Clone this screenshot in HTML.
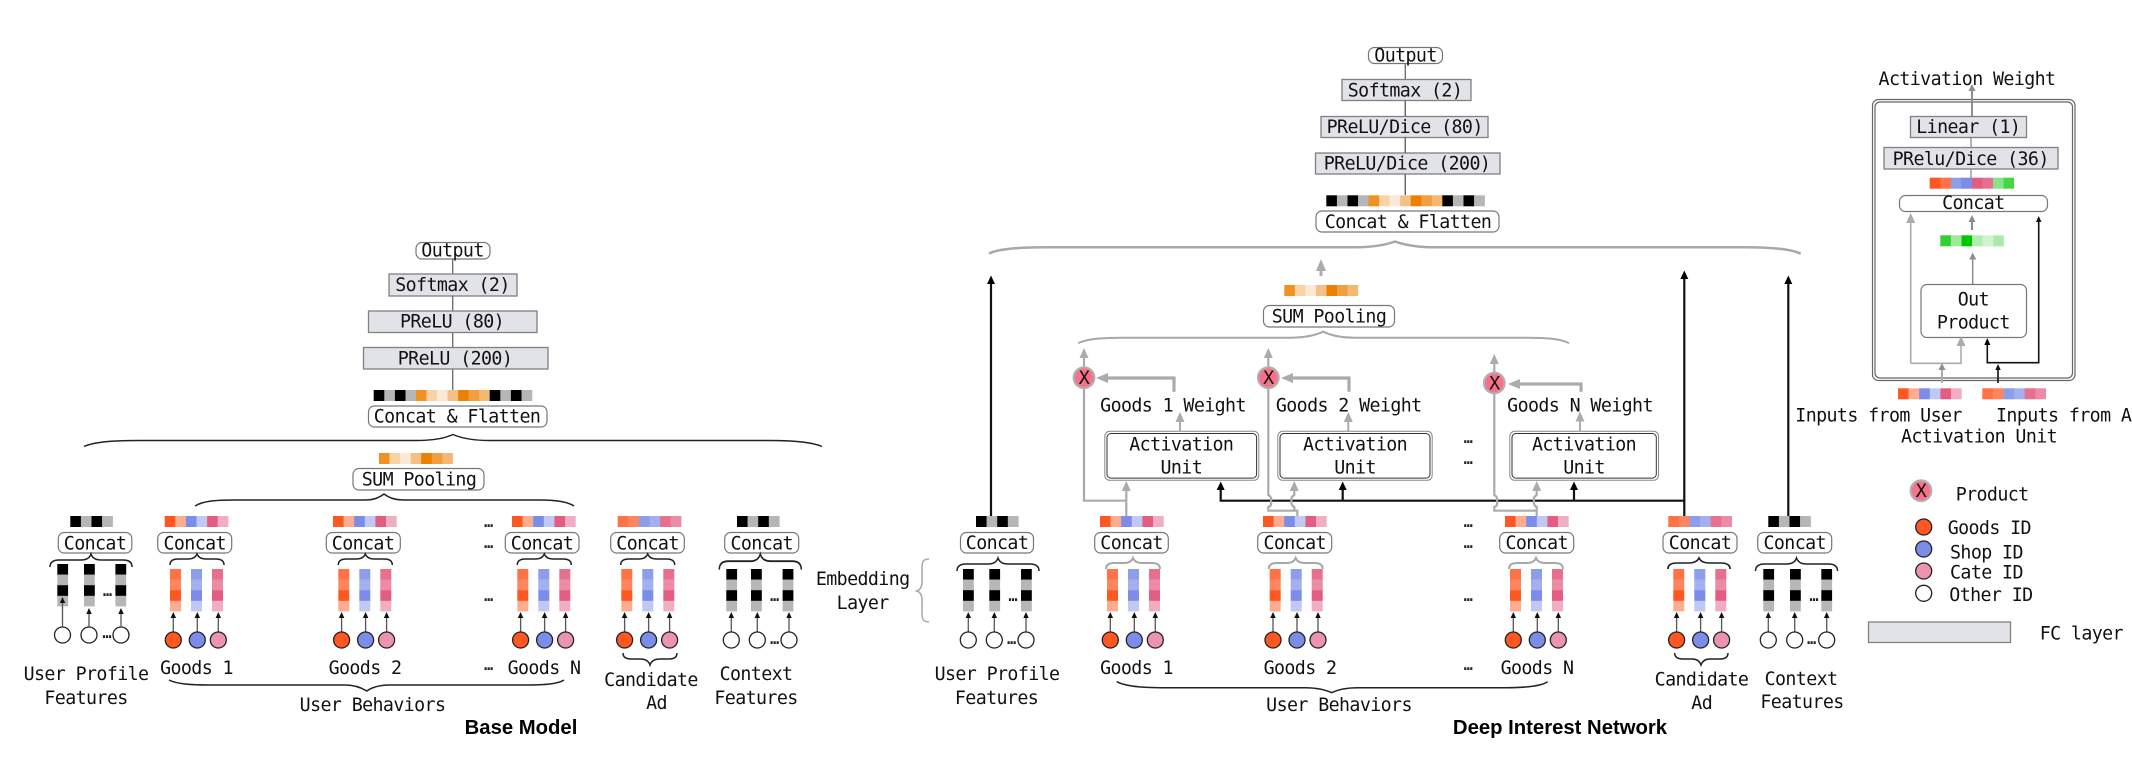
<!DOCTYPE html>
<html><head><meta charset="utf-8"><style>
html,body{margin:0;padding:0;background:#fff;width:2132px;height:762px;overflow:hidden}
svg{display:block}
text{font-family:"DejaVu Sans Mono","Liberation Mono",monospace;font-size:18.3px;letter-spacing:-0.6px;fill:#111}
.m{text-anchor:middle}
.b{font-family:"Liberation Sans",sans-serif;font-weight:bold;font-size:20.3px;letter-spacing:0;fill:#000;text-anchor:middle}
.d{font-size:15px;letter-spacing:0;font-weight:bold;text-anchor:middle;fill:#222}
.box{fill:#fff;stroke:#777;stroke-width:1.2}
.fc{fill:#e2e3e8;stroke:#808080;stroke-width:1.3}
.br{fill:none;stroke:#222;stroke-width:1.5}
.gb{fill:none;stroke:#a8a8a8;stroke-width:2}
.gl{fill:none;stroke:#ababab;stroke-width:2.2}
.kl{fill:none;stroke:#111;stroke-width:2.2}
</style></head><body>
<svg width="2132" height="762" viewBox="0 0 2132 762" xmlns="http://www.w3.org/2000/svg">
<defs>
<marker id="as" markerUnits="userSpaceOnUse" markerWidth="7" markerHeight="7" refX="0" refY="2.75" orient="auto"><path d="M0,0L6,2.75L0,5.5z" fill="#111"/></marker>
<marker id="ak" markerUnits="userSpaceOnUse" markerWidth="10" markerHeight="10" refX="0" refY="4" orient="auto"><path d="M0,0L8.5,4L0,8z" fill="#000"/></marker>
<marker id="ag" markerUnits="userSpaceOnUse" markerWidth="12" markerHeight="10" refX="0" refY="4.5" orient="auto"><path d="M0,0L10,4.5L0,9z" fill="#ababab"/></marker>
<marker id="agb" markerUnits="userSpaceOnUse" markerWidth="14" markerHeight="12" refX="0" refY="5" orient="auto"><path d="M0,0L12,5L0,10z" fill="#ababab"/></marker>
<marker id="agd" markerUnits="userSpaceOnUse" markerWidth="9" markerHeight="8" refX="0" refY="3.5" orient="auto"><path d="M0,0L7,3.5L0,7z" fill="#8e8e8e"/></marker>

<g id="bk4"><rect width="10.8" height="11" fill="#000"/><rect x="10.6" width="10.8" height="11" fill="#b6b6b6"/><rect x="21.2" width="10.8" height="11" fill="#000"/><rect x="31.8" width="10.8" height="11" fill="#b6b6b6"/></g>
<g id="bu"><rect width="10.9" height="11" fill="#fe5722"/><rect x="10.6" width="10.9" height="11" fill="#fdac8f"/><rect x="21.2" width="10.9" height="11" fill="#7b8de8"/><rect x="31.8" width="10.9" height="11" fill="#c0c9f4"/><rect x="42.4" width="10.9" height="11" fill="#e35d82"/><rect x="53" width="10.7" height="11" fill="#f1aec3"/></g>
<g id="bc"><rect width="10.9" height="11" fill="#fe7245"/><rect x="10.6" width="10.9" height="11" fill="#fe855e"/><rect x="21.2" width="10.9" height="11" fill="#8c9dea"/><rect x="31.8" width="10.9" height="11" fill="#a3b0ed"/><rect x="42.4" width="10.9" height="11" fill="#e8708f"/><rect x="53" width="10.7" height="11" fill="#ec8ba5"/></g>
<g id="bo"><rect width="10.8" height="11" fill="#ef9222"/><rect x="10.55" width="10.8" height="11" fill="#f9d2a5"/><rect x="21.1" width="10.8" height="11" fill="#fce9d5"/><rect x="31.65" width="10.8" height="11" fill="#f5c088"/><rect x="42.2" width="10.8" height="11" fill="#ec8000"/><rect x="52.75" width="10.8" height="11" fill="#f09e3f"/><rect x="63.3" width="10.6" height="11" fill="#f4b870"/></g>
<g id="b15"><use href="#bk4"/><use href="#bo" x="42.2"/><use href="#bk4" x="116"/></g>
<g id="vk"><rect width="10.8" height="10.8" fill="#000"/><rect y="10.6" width="10.8" height="10.8" fill="#b6b6b6"/><rect y="21.2" width="10.8" height="10.8" fill="#000"/><rect y="31.8" width="10.8" height="10.6" fill="#b6b6b6"/></g>
<g id="vc">
<rect width="11" height="10.8" fill="#fe7245"/><rect y="10.6" width="11" height="10.8" fill="#fe855e"/><rect y="21.2" width="11" height="10.8" fill="#fe5722"/><rect y="31.8" width="11" height="10.6" fill="#fdac8f"/>
<rect x="21" width="11" height="10.8" fill="#8c9dea"/><rect x="21" y="10.6" width="11" height="10.8" fill="#a3b0ed"/><rect x="21" y="21.2" width="11" height="10.8" fill="#7b8de8"/><rect x="21" y="31.8" width="11" height="10.6" fill="#c0c9f4"/>
<rect x="42" width="11" height="10.8" fill="#e8708f"/><rect x="42" y="10.6" width="11" height="10.8" fill="#ec8ba5"/><rect x="42" y="21.2" width="11" height="10.8" fill="#e35d82"/><rect x="42" y="31.8" width="11" height="10.6" fill="#f1aec3"/>
</g>
<g id="grp"><use href="#vc" y="569"/>
<path d="M3.3,632V618" stroke="#555" stroke-width="1.3" fill="none" marker-end="url(#as)"/><path d="M27.3,632V618" stroke="#555" stroke-width="1.3" fill="none" marker-end="url(#as)"/><path d="M48.3,632V618" stroke="#555" stroke-width="1.3" fill="none" marker-end="url(#as)"/>
<circle cx="3.3" cy="640" r="8" fill="#fe5722" stroke="#222" stroke-width="1.3"/><circle cx="27.3" cy="640" r="8" fill="#7b8de8" stroke="#222" stroke-width="1.3"/><circle cx="48.3" cy="640" r="8" fill="#ec94ae" stroke="#222" stroke-width="1.3"/></g>
<path id="b3" d="M-27,11Q-27,5 -19,5L-9,5Q-2,5 0,0Q2,5 9,5L19,5Q27,5 27,11"/>
<path id="b4" d="M-41,13Q-41,6 -32,6L-10,6Q-2,6 0,0Q2,6 10,6L32,6Q41,6 41,13"/>
<g id="wc"><path d="M0,-8V-22" stroke="#555" stroke-width="1.3" fill="none" marker-end="url(#as)"/><circle r="8" fill="#fff" stroke="#222" stroke-width="1.3"/></g>
</defs>

<!-- BASE MODEL -->
<path d="M452.7,259V390" stroke="#666" stroke-width="1.3"/>
<rect class="box" x="416" y="242.5" width="74" height="16.5" rx="6"/><text class="m" x="452.5" y="256.5">Output</text>
<rect class="fc" x="389" y="274" width="128" height="22"/><text class="m" x="452.5" y="291">Softmax (2)</text>
<rect class="fc" x="368.5" y="311" width="168.5" height="21.5"/><text class="m" x="452" y="327.7">PReLU (80)</text>
<rect class="fc" x="363.5" y="347.5" width="184.5" height="21.5"/><text class="m" x="455" y="364.3">PReLU (200)</text>
<use href="#b15" x="373.7" y="390"/>
<rect class="box" x="368.5" y="406" width="178.5" height="21" rx="6"/><text class="m" x="457" y="422.3">Concat &amp; Flatten</text>
<path class="br" d="M84,446.5C95,441.5 115,440.5 140,440.5L415,440.5C435,440.5 445,438 453,434.5C461,438 471,440.5 490,440.5L770,440.5C795,440.5 812,442 822,446.5"/>
<use href="#bo" x="379" y="453"/>
<rect class="box" x="353" y="468.5" width="131" height="21.5" rx="6"/><text class="m" x="419" y="485.7">SUM Pooling</text>
<path class="br" d="M195,506C203,501 215,500 235,500L365,500C375,500 380,497 384,494C388,497 393,500 405,500L540,500C558,500 568,502 574,506"/>

<use href="#bk4" x="70.3" y="516"/>
<rect class="box" x="58.3" y="532.5" width="73.5" height="20.5" rx="6"/><text class="m" x="95" y="549.3">Concat</text>
<use href="#b4" transform="translate(91,554)" class="br" />
<use href="#vk" x="57.3" y="564"/><use href="#vk" x="84" y="564"/><use href="#vk" x="115.4" y="564"/>
<circle cx="62.5" cy="635" r="8" fill="#fff" stroke="#222" stroke-width="1.3"/><circle cx="89" cy="635" r="8" fill="#fff" stroke="#222" stroke-width="1.3"/><circle cx="121" cy="635" r="8" fill="#fff" stroke="#222" stroke-width="1.3"/>
<path d="M62.5,627V603" stroke="#555" stroke-width="1.3" marker-end="url(#as)"/><path d="M89,627V614" stroke="#555" stroke-width="1.3" marker-end="url(#as)"/><path d="M121,627V614" stroke="#555" stroke-width="1.3" marker-end="url(#as)"/>
<text class="d" x="107.5" y="596">…</text><text class="d" x="107" y="638">…</text>
<text class="m" x="86" y="680">User Profile</text><text class="m" x="86" y="704">Features</text>

<use href="#bu" x="164.7" y="516"/>
<rect class="box" x="157.7" y="532.5" width="74" height="20.5" rx="6"/><text class="m" x="194.7" y="549.3">Concat</text>
<use href="#b3" transform="translate(197,554)" class="br"/><use href="#grp" x="170"/>
<text class="m" x="196.5" y="674">Goods 1</text>

<use href="#bu" x="333" y="516"/>
<rect class="box" x="326.3" y="532.5" width="74" height="20.5" rx="6"/><text class="m" x="363" y="549.3">Concat</text>
<use href="#b3" transform="translate(365.3,554)" class="br"/><use href="#grp" x="338.3"/>
<text class="m" x="365" y="674">Goods 2</text>

<use href="#bu" x="512" y="516"/>
<rect class="box" x="505.3" y="532.5" width="73.7" height="20.5" rx="6"/><text class="m" x="542" y="549.3">Concat</text>
<use href="#b3" transform="translate(544.3,554)" class="br"/><use href="#grp" x="517.3"/>
<text class="m" x="544" y="674">Goods N</text>
<text class="d" x="488.7" y="527">…</text><text class="d" x="488.7" y="548">…</text><text class="d" x="488.7" y="601">…</text><text class="d" x="488.7" y="670">…</text>
<path class="br" d="M169,680C177,684 190,685 210,685L345,685C355,685 362,688 366.7,691C371,688 378,685 390,685L525,685C545,685 558,684 564,680"/>
<text class="m" x="372.5" y="711">User Behaviors</text>
<text class="b" x="521" y="734">Base Model</text>

<use href="#bc" x="617.7" y="516"/>
<rect class="box" x="610.7" y="532.5" width="73.6" height="20.5" rx="6"/><text class="m" x="647.5" y="549.3">Concat</text>
<use href="#b3" transform="translate(647.7,554)" class="br"/><use href="#grp" x="621.3"/>
<path class="br" d="M623,653Q623,659 631,659L640,659Q648,659 650,665Q652,659 660,659L669,659Q677,659 677,653"/>
<text class="m" x="651" y="686">Candidate</text><text class="m" x="656.5" y="709">Ad</text>

<use href="#bk4" x="737" y="516"/>
<rect class="box" x="724.7" y="532.5" width="74" height="20.5" rx="6"/><text class="m" x="761.7" y="549.3">Concat</text>
<use href="#b4" transform="translate(760.3,554) scale(1,1.2)" class="br"/>
<use href="#vk" x="726.3" y="569"/><use href="#vk" x="751" y="569"/><use href="#vk" x="782.6" y="569"/>
<use href="#wc" x="731.3" y="640"/><use href="#wc" x="757.3" y="640"/><use href="#wc" x="789" y="640"/>
<text class="d" x="774.7" y="601">…</text><text class="d" x="774.7" y="644">…</text>
<text class="m" x="756" y="680">Context</text><text class="m" x="756" y="704">Features</text>

<text class="m" x="862.7" y="585">Embedding</text><text class="m" x="862.7" y="609">Layer</text>
<path d="M929,559C923,559 922,562 922,568L922,582C922,587 920,590 916.7,591C920,592 922,595 922,600L922,613C922,619 923,622 929,622" fill="none" stroke="#a8a8a8" stroke-width="1.5"/>

<!-- DIN TOP -->
<path d="M1405.3,63V195" stroke="#666" stroke-width="1.3"/>
<rect class="box" x="1368.5" y="47.5" width="74" height="16" rx="6"/><text class="m" x="1405.5" y="61.5">Output</text>
<rect class="fc" x="1342" y="79.5" width="129" height="21"/><text class="m" x="1405" y="96.3">Softmax (2)</text>
<rect class="fc" x="1321" y="116.5" width="167" height="21"/><text class="m" x="1404.7" y="133">PReLU/Dice (80)</text>
<rect class="fc" x="1315.5" y="153" width="184.5" height="21"/><text class="m" x="1407" y="169.7">PReLU/Dice (200)</text>
<path d="M1405.3,100V116M1405.3,137V153M1405.3,174V195" stroke="#666" stroke-width="1.3"/>
<use href="#b15" x="1326.3" y="195.3"/>
<rect class="box" x="1316" y="211" width="183" height="21" rx="6"/><text class="m" x="1408" y="228">Concat &amp; Flatten</text>
<path class="gb" style="stroke-width:2.5" d="M989,253.5C1000,248.5 1020,247.3 1050,247.3L1355,247.3C1375,247.3 1388,244 1395,241.5C1402,244 1415,247.3 1435,247.3L1745,247.3C1775,247.3 1792,249.5 1800.7,253.7"/>
<path d="M1321,276V271" stroke="#ababab" stroke-width="3" marker-end="url(#agb)"/>
<use href="#bo" x="1284.3" y="285"/>
<rect class="box" x="1263.5" y="305.5" width="131" height="21.5" rx="6"/><text class="m" x="1329" y="322.3">SUM Pooling</text>
<path class="gb" d="M1078.3,343.3C1086,339 1100,337.7 1125,337.7L1290,337.7C1305,337.7 1316,335 1323.3,331.7C1330,335 1341,337.7 1355,337.7L1525,337.7C1548,337.7 1562,339 1569,343.3"/>

<!-- black lines -->
<path class="kl" d="M991,516V284" marker-end="url(#ak)"/>
<path class="kl" d="M1684.3,516V279" marker-end="url(#ak)"/>
<path class="kl" d="M1788.3,516V284" marker-end="url(#ak)"/>
<path class="kl" d="M1684.3,500.7H1220.7V490" marker-end="url(#ak)"/>
<path class="kl" d="M1342.7,500.7V490" marker-end="url(#ak)"/>
<path class="kl" d="M1574,500.7V490" marker-end="url(#ak)"/>

<!-- grey routes -->
<path class="gl" d="M1126.3,516V491" marker-end="url(#ag)"/>
<path class="gl" d="M1126.3,500.7H1084V386"/>
<path class="gl" d="M1297.3,516V510.7H1268.3V507Q1272,506 1271,501Q1272,497 1268.3,495V386"/>
<path class="gl" d="M1294.3,510.7V507Q1290.5,505 1291.5,501Q1290.5,497 1294.3,495V491" marker-end="url(#ag)"/>
<path class="gl" d="M1536.7,516V510.7H1494.3V507Q1498,506 1497,501Q1498,497 1494.3,495V392"/>
<path class="gl" d="M1536.7,510.7V507Q1533,505 1534,501Q1533,497 1536.7,495V491" marker-end="url(#ag)"/>

<!-- product arrows -->
<path class="gl" d="M1084,368V358" marker-end="url(#ag)"/>
<path class="gl" d="M1268.3,368V358" marker-end="url(#ag)"/>
<path class="gl" d="M1494.3,373V364" marker-end="url(#ag)"/>
<path d="M1174,391.7V378H1108" fill="none" stroke="#ababab" stroke-width="3.2" marker-end="url(#agb)"/>
<path d="M1349,391.7V378H1293" fill="none" stroke="#ababab" stroke-width="3.2" marker-end="url(#agb)"/>
<path d="M1581,391.7V384H1520" fill="none" stroke="#ababab" stroke-width="3.2" marker-end="url(#agb)"/>
<path d="M1180,431V422" stroke="#ababab" stroke-width="2" marker-end="url(#ag)"/>
<path d="M1348.3,431V422" stroke="#ababab" stroke-width="2" marker-end="url(#ag)"/>
<path d="M1580,431V421.5" stroke="#ababab" stroke-width="2" marker-end="url(#ag)"/>
<circle cx="1084" cy="377.7" r="10.3" fill="#f8708a" stroke="#b0b0b0" stroke-width="2.2"/><text class="m" x="1084" y="384">X</text>
<circle cx="1268.3" cy="377.7" r="10.3" fill="#f8708a" stroke="#b0b0b0" stroke-width="2.2"/><text class="m" x="1268.3" y="384">X</text>
<circle cx="1494.3" cy="383" r="10.3" fill="#f8708a" stroke="#b0b0b0" stroke-width="2.2"/><text class="m" x="1494.3" y="389.3">X</text>
<text class="m" x="1173" y="411.7">Goods 1 Weight</text>
<text class="m" x="1348.7" y="411.7">Goods 2 Weight</text>
<text class="m" x="1580" y="411.7">Goods N Weight</text>

<!-- activation units -->
<rect x="1104.8" y="431.3" width="154" height="49" rx="5" fill="#fff" stroke="#888" stroke-width="1"/><rect x="1107" y="433.5" width="149.6" height="44.6" rx="4" fill="#fff" stroke="#333" stroke-width="1"/>
<text class="m" x="1181.3" y="450.3">Activation</text><text class="m" x="1181.3" y="473.7">Unit</text>
<rect x="1277.8" y="431.3" width="154.4" height="49" rx="5" fill="#fff" stroke="#888" stroke-width="1"/><rect x="1280" y="433.5" width="150" height="44.6" rx="4" fill="#fff" stroke="#333" stroke-width="1"/>
<text class="m" x="1355" y="450.3">Activation</text><text class="m" x="1355" y="473.7">Unit</text>
<rect x="1509.8" y="431.3" width="148.7" height="49" rx="5" fill="#fff" stroke="#888" stroke-width="1"/><rect x="1512" y="433.5" width="144.3" height="44.6" rx="4" fill="#fff" stroke="#333" stroke-width="1"/>
<text class="m" x="1584" y="450.3">Activation</text><text class="m" x="1584" y="473.7">Unit</text>
<text class="d" x="1468.3" y="443">…</text><text class="d" x="1468.3" y="464">…</text>

<!-- DIN bottom -->
<use href="#bk4" x="976" y="516"/>
<rect class="box" x="960.5" y="532.5" width="73" height="20.5" rx="6"/><text class="m" x="997" y="549">Concat</text>
<use href="#b4" transform="translate(998,558)" class="br"/>
<use href="#vk" x="963" y="569"/><use href="#vk" x="989.3" y="569"/><use href="#vk" x="1021" y="569"/>
<use href="#wc" x="968.3" y="640"/><use href="#wc" x="994.3" y="640"/><use href="#wc" x="1026" y="640"/>
<text class="d" x="1013" y="601">…</text><text class="d" x="1011.7" y="644">…</text>
<text class="m" x="997" y="680">User Profile</text><text class="m" x="996.5" y="704">Features</text>

<use href="#bu" x="1100" y="516"/>
<rect class="box" x="1094.7" y="532.5" width="73.6" height="20.5" rx="6"/><text class="m" x="1131.5" y="549">Concat</text>
<use href="#b3" transform="translate(1133,558)" class="gb"/><use href="#grp" x="1107"/>
<text class="m" x="1136.5" y="674">Goods 1</text>

<use href="#bu" x="1263" y="516"/>
<rect class="box" x="1257.7" y="532.5" width="74" height="20.5" rx="6"/><text class="m" x="1294.7" y="549">Concat</text>
<use href="#b3" transform="translate(1295.7,558)" class="gb"/><use href="#grp" x="1269.7"/>
<text class="m" x="1300" y="674">Goods 2</text>

<use href="#bu" x="1505" y="516"/>
<rect class="box" x="1499.7" y="532.5" width="74" height="20.5" rx="6"/><text class="m" x="1536.7" y="549">Concat</text>
<use href="#b3" transform="translate(1536,558)" class="gb"/><use href="#grp" x="1510"/>
<text class="m" x="1537" y="674">Goods N</text>
<text class="d" x="1468.3" y="527">…</text><text class="d" x="1468.3" y="548">…</text><text class="d" x="1468.3" y="601">…</text><text class="d" x="1468.3" y="670">…</text>
<path class="br" d="M1116.7,681.7C1125,686 1140,687.7 1160,687.7L1305,687.7C1318,687.7 1326,690 1331.7,692.7C1337,690 1345,687.7 1358,687.7L1505,687.7C1528,687.7 1541,686 1547.7,681.7"/>
<text class="m" x="1339" y="711">User Behaviors</text>
<text class="b" x="1560" y="734">Deep Interest Network</text>

<use href="#bc" x="1668.3" y="516"/>
<rect class="box" x="1663" y="532.5" width="74" height="20.5" rx="6"/><text class="m" x="1700" y="549">Concat</text>
<use href="#b3" transform="translate(1699,558) scale(1.15,1)" class="br"/><use href="#grp" x="1673.3"/>
<path class="br" d="M1674.7,653Q1674.7,659 1683,659L1692,659Q1699,659 1701,665Q1703,659 1710,659L1720,659Q1728,659 1728,653"/>
<text class="m" x="1701.5" y="685.7">Candidate</text><text class="m" x="1701.7" y="709">Ad</text>

<use href="#bk4" x="1768.3" y="516"/>
<rect class="box" x="1757.7" y="532.5" width="74" height="20.5" rx="6"/><text class="m" x="1794.7" y="549">Concat</text>
<use href="#b4" transform="translate(1796.5,558)" class="br"/>
<use href="#vk" x="1763.3" y="569"/><use href="#vk" x="1790" y="569"/><use href="#vk" x="1821.3" y="569"/>
<use href="#wc" x="1768.3" y="640"/><use href="#wc" x="1794.7" y="640"/><use href="#wc" x="1826.7" y="640"/>
<text class="d" x="1814" y="601">…</text><text class="d" x="1811.7" y="644">…</text>
<text class="m" x="1801" y="685">Context</text><text class="m" x="1802" y="708">Features</text>

<!-- ACTIVATION UNIT DETAIL -->
<text class="m" x="1967" y="85">Activation Weight</text>
<rect x="1872.5" y="99.5" width="202.5" height="281" rx="6" fill="#fff" stroke="#666" stroke-width="1.2"/>
<rect x="1875" y="102" width="197.5" height="276" rx="5" fill="#fff" stroke="#666" stroke-width="1.2"/>
<path d="M1972,117V91" stroke="#8e8e8e" stroke-width="2" marker-end="url(#agd)"/>
<path d="M1971,137V178" stroke="#8e8e8e" stroke-width="1.3"/>
<rect class="fc" x="1910.5" y="116.5" width="116" height="21"/><text class="m" x="1968.3" y="133">Linear (1)</text>
<rect class="fc" x="1884" y="147.5" width="174" height="21.5"/><text class="m" x="1970.7" y="165">PRelu/Dice (36)</text>
<g transform="translate(1929.7,177.7)"><rect width="10.9" height="11" fill="#fe5722"/><rect x="10.55" width="10.9" height="11" fill="#fe7245"/><rect x="21.1" width="10.9" height="11" fill="#8c9dea"/><rect x="31.65" width="10.9" height="11" fill="#7b8de8"/><rect x="42.2" width="10.9" height="11" fill="#e35d82"/><rect x="52.75" width="10.9" height="11" fill="#e8708f"/><rect x="63.3" width="10.9" height="11" fill="#88e388"/><rect x="73.85" width="10.5" height="11" fill="#44d644"/></g>
<rect class="box" x="1899.5" y="195.5" width="148" height="16" rx="6"/><text class="m" x="1973.3" y="209">Concat</text>
<path d="M1972,230V222" stroke="#8e8e8e" stroke-width="2" marker-end="url(#agd)"/>
<g transform="translate(1940.3,235.3)"><rect width="10.8" height="11" fill="#33d033"/><rect x="10.6" width="10.8" height="11" fill="#a0e8a0"/><rect x="21.2" width="10.8" height="11" fill="#00c800"/><rect x="31.8" width="10.8" height="11" fill="#b2edb2"/><rect x="42.4" width="10.8" height="11" fill="#cff4cf"/><rect x="53" width="10.5" height="11" fill="#aaebaa"/></g>
<path d="M1972.7,284V259.5" stroke="#8e8e8e" stroke-width="1.5" marker-end="url(#agd)"/>
<rect class="box" x="1921" y="284.5" width="105.5" height="53" rx="6"/><text class="m" x="1973.3" y="305.3">Out</text><text class="m" x="1973.3" y="328.7">Product</text>
<path d="M1942,383V370" stroke="#ababab" stroke-width="2" marker-end="url(#agd)"/>
<path d="M1910.7,363.3V223" fill="none" stroke="#ababab" stroke-width="1.6" marker-end="url(#ag)"/>
<path d="M1910.7,363.3H1961V346" fill="none" stroke="#ababab" stroke-width="1.6" marker-end="url(#ag)"/>
<path d="M1998,383V370" stroke="#111" stroke-width="1.6" marker-end="url(#as)"/>
<path d="M1987.3,345V362.7H2038.7V222" fill="none" stroke="#111" stroke-width="1.6" marker-end="url(#as)"/>
<path d="M1984.3,345L1987.3,338L1990.3,345z" fill="#000"/>
<use href="#bu" x="1898" y="388.3"/><use href="#bc" x="1982.3" y="388.3"/>
<text x="1795.3" y="421.7">Inputs from User</text><text x="1996" y="421.7">Inputs from Ad</text>
<text class="m" x="1979" y="442.7">Activation Unit</text>

<!-- LEGEND -->
<circle cx="1921" cy="490.7" r="10.3" fill="#f8708a" stroke="#b0b0b0" stroke-width="2.2"/><text class="m" x="1921" y="497">X</text>
<text x="1955.7" y="500.7">Product</text>
<circle cx="1923.7" cy="527" r="8" fill="#fe5722" stroke="#222" stroke-width="1.3"/><text x="1947.7" y="534">Goods ID</text>
<circle cx="1923.7" cy="549" r="8" fill="#7b8de8" stroke="#222" stroke-width="1.3"/><text x="1950" y="558.3">Shop ID</text>
<circle cx="1923.7" cy="571" r="8" fill="#ec94ae" stroke="#222" stroke-width="1.3"/><text x="1950" y="578.7">Cate ID</text>
<circle cx="1923.7" cy="593.3" r="8" fill="#fff" stroke="#222" stroke-width="1.3"/><text x="1949.3" y="601">Other ID</text>
<rect class="fc" x="1868.5" y="622" width="142" height="20.5"/><text x="2039.7" y="639.3">FC layer</text>
</svg>
</body></html>
